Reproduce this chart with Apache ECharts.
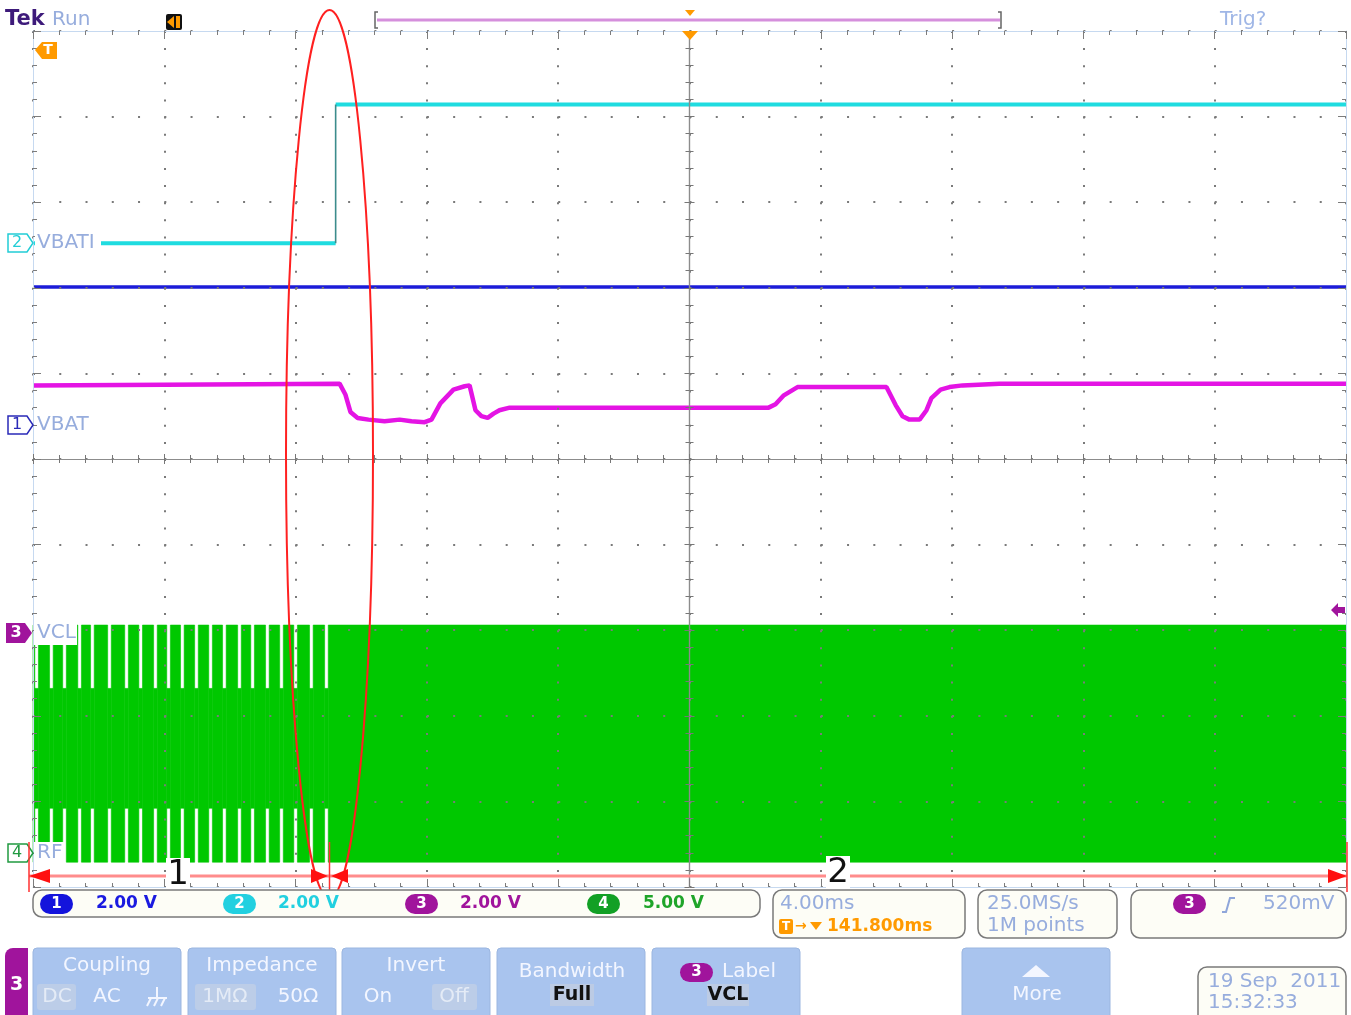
<!DOCTYPE html>
<html><head><meta charset="utf-8">
<script src="https://cdn.jsdelivr.net/npm/echarts@6/dist/echarts.min.js"></script>
<style>html,body{margin:0;padding:0;background:#fff;overflow:hidden}#c{width:1351px;height:1015px}</style>
</head><body><div id="c"></div>
<script>
// ---------------- data ----------------
const xRange = [-20, 20];          // time, ms (4.00 ms/div, trigger at 0)
const xInterval = 4;
const yRange = [-5, 5];            // screen divisions
const yInterval = 1;

// Channel 2 (VBATI), divisions
const ch2VBATI = [[-20, 2.52], [-10.78, 2.52], [-10.78, 4.14], [20, 4.14]];
// Channel 1 (VBAT), divisions
const ch1VBAT = [[-20, 2.01], [20, 2.01]];
// Channel 3 (VCL), divisions
const ch3VCL = [[-20, 0.86], [-10.66, 0.88], [-10.48, 0.75], [-10.33, 0.55], [-10.11, 0.48], [-9.78, 0.46],
  [-9.29, 0.44], [-8.83, 0.46], [-8.47, 0.44], [-8.07, 0.43], [-7.86, 0.46], [-7.59, 0.65], [-7.19, 0.81],
  [-6.85, 0.85], [-6.70, 0.86], [-6.52, 0.57], [-6.34, 0.50], [-6.15, 0.48], [-5.97, 0.53], [-5.79, 0.57],
  [-5.48, 0.60], [2.41, 0.60], [2.62, 0.64], [2.86, 0.74], [3.29, 0.84], [6.00, 0.84], [6.28, 0.63],
  [6.49, 0.50], [6.70, 0.46], [7.01, 0.46], [7.22, 0.57], [7.37, 0.71], [7.65, 0.81], [7.92, 0.84],
  [8.32, 0.86], [9.44, 0.88], [20, 0.88]];
// Channel 4 (RF) envelope: burst gaps (ms) before continuous transmission
const rfGapCenters = [-19.89, -19.44, -19.04, -18.58, -18.19, -17.67, -17.15, -16.72, -16.27, -15.87, -15.45,
  -15.02, -14.59, -14.17, -13.71, -13.31, -12.86, -12.43, -12.00, -11.52, -11.06];
const rfGapWidth = 0.11;
const rfFullEnvelope = [-4.71, -1.94];
const rfGapEnvelope = [-4.08, -2.68];

const channelNames = ['VBATI', 'VBAT', 'VCL', 'RF'];
const channelScales = ['2.00 V', '2.00 V', '2.00 V', '5.00 V'];
const timebaseText = '4.00ms';
const trigDelayText = '141.800ms';
const sampleText = ['25.0MS/s', '1M points'];
const trigLevelText = '520mV';
const dateText = ['19 Sep  2011', '15:32:33'];
const cursorLabels = ['1', '2'];

// build RF segment table
const rfSegments = [];
let prevT = xRange[0];
rfGapCenters.forEach(c => {
  rfSegments.push([prevT, c - rfGapWidth / 2, rfFullEnvelope[0], rfFullEnvelope[1]]);
  rfSegments.push([c - rfGapWidth / 2, c + rfGapWidth / 2, rfGapEnvelope[0], rfGapEnvelope[1]]);
  prevT = c + rfGapWidth / 2;
});
rfSegments.push([prevT, xRange[1], rfFullEnvelope[0], rfFullEnvelope[1]]);

// cyan trace: thick levels, thin edge (both from ch2VBATI)
const ch2Levels = [ch2VBATI[0], ch2VBATI[1], [ch2VBATI[1][0], '-'], ch2VBATI[2], ch2VBATI[3]];
const ch2Edge = [ch2VBATI[1], ch2VBATI[2]];

// ---------------- chart ----------------
const FONT = '"DejaVu Sans", Verdana, sans-serif';
const LB = '#97addd';
const tickCol = '#7c7c7c';
const borderCol = '#c6d9f0';

function xAx(extra) {
  return Object.assign({type: 'value', min: xRange[0], max: xRange[1], interval: xInterval, z: 5,
    axisLabel: {show: false}, splitLine: {show: false}, axisPointer: {show: false}}, extra);
}
function yAx(extra) {
  return Object.assign({type: 'value', min: yRange[0], max: yRange[1], interval: yInterval, z: 5,
    axisLabel: {show: false}, splitLine: {show: false}, axisPointer: {show: false}}, extra);
}
const borderTick = {show: true, inside: true, length: 8, lineStyle: {color: tickCol, width: 1}};
const borderMinor = {show: true, splitNumber: 5, length: 4, lineStyle: {color: tickCol, width: 1}};
const centerTick = {show: true, inside: true, length: 5, lineStyle: {color: '#777', width: 1}};
const centerMinor = {show: true, splitNumber: 5, length: 4, lineStyle: {color: '#777', width: 1}};
const centerLine = {color: '#8c8c8c', width: 1.2};

const G = [];
let zc = 100;
function T(x, y, s, o) {
  o = o || {};
  const al = o.align || 'left';
  G.push({type: 'text', z: zc++, silent: true, style: {x: x, y: y, text: s,
    font: o.font || ('20px ' + FONT), fill: o.fill || LB,
    align: al, verticalAlign: 'middle', textAlign: al, textVerticalAlign: 'middle'}});
}
function R(x, y, w, h, o) {
  o = o || {};
  G.push({type: 'rect', z: zc++, silent: true, shape: {x: x, y: y, width: w, height: h, r: o.r || 0},
    style: {fill: o.fill || 'none', stroke: o.stroke || null, lineWidth: o.lw || 1}});
}
function P(points, fill, stroke, lw) {
  G.push({type: 'polygon', z: zc++, silent: true, shape: {points: points},
    style: {fill: fill || 'none', stroke: stroke || null, lineWidth: lw || 1}});
}
function L(x1, y1, x2, y2, color, lw) {
  G.push({type: 'line', z: zc++, silent: true, shape: {x1: x1, y1: y1, x2: x2, y2: y2},
    style: {stroke: color, lineWidth: lw || 1}});
}
function PL(points, color, lw) {
  G.push({type: 'polyline', z: zc++, silent: true, shape: {points: points},
    style: {stroke: color, lineWidth: lw || 1, fill: 'none'}});
}

// header
T(5, 20, 'Tek', {font: 'bold 21px ' + FONT, fill: '#3d1a7a'});
T(52, 20, 'Run', {font: '20px ' + FONT});
R(166, 14, 16, 16, {fill: '#111', r: 2});
P([[167, 22], [174, 16], [174, 28]], '#ff9a00');
R(176, 16, 4, 12, {fill: '#ff9a00'});
L(377, 20, 1000, 20, '#d58fdc', 3);
PL([[378, 12], [375, 12], [375, 28], [378, 28]], '#666', 1.5);
PL([[998, 12], [1001, 12], [1001, 28], [998, 28]], '#666', 1.5);
P([[685, 10], [695, 10], [690, 16]], '#ff9a00');
P([[682, 31], [698, 31], [690, 40]], '#ff9a00');
T(1220, 20, 'Trig?', {font: '20px ' + FONT, fill: '#9fb6e6'});
// left trigger-time marker
P([[35, 50], [42, 42], [57, 42], [57, 59], [42, 59]], '#ff9a00');
T(48, 50, 'T', {font: 'bold 14px ' + FONT, fill: '#fff', align: 'center'});

// channel markers + labels
R(35, 231, 66, 24, {fill: '#ffffff'});
P([[8, 234], [27, 234], [33, 243], [27, 252], [8, 252]], '#fff', '#22cdd6', 1.5);
T(17, 243, '2', {font: '16px ' + FONT, fill: '#22cdd6', align: 'center'});
T(37, 243, channelNames[0]);
P([[8, 416], [27, 416], [33, 425], [27, 434], [8, 434]], '#fff', '#2a2ab8', 1.5);
T(17, 425, '1', {font: '16px ' + FONT, fill: '#2a2ab8', align: 'center'});
T(37, 425, channelNames[1]);
R(34, 622, 43, 23, {fill: '#ffffff'});
P([[6, 623], [25, 623], [32, 633], [25, 643], [6, 643]], '#a0149c');
T(16, 633, '3', {font: 'bold 16px ' + FONT, fill: '#fff', align: 'center'});
T(37, 633, channelNames[2]);
R(34, 842, 30, 21, {fill: '#ffffff'});
P([[8, 844], [27, 844], [33, 853], [27, 862], [8, 862]], '#fff', '#209a40', 1.5);
T(17, 853, '4', {font: '16px ' + FONT, fill: '#209a40', align: 'center'});
T(37, 853, channelNames[3]);
// trigger level arrow
P([[1331, 610], [1338, 603], [1338, 607], [1345, 607], [1345, 613], [1338, 613], [1338, 617]], '#a0149c');

// red annotations
G.push({type: 'ellipse', z: zc++, silent: true, shape: {cx: 329.5, cy: 454, rx: 43.5, ry: 444},
  style: {fill: 'none', stroke: '#ff2020', lineWidth: 2}});
L(29, 876, 1347, 876, '#ff8c8c', 3);
L(29, 842, 29, 892, '#ff3030', 1.5);
L(329.5, 842, 329.5, 897, '#ff3030', 1.5);
L(1347, 842, 1347, 892, '#ff3030', 1.5);
P([[29, 876], [50, 869], [50, 883]], '#ff1010');
P([[328, 876], [311, 869], [311, 883]], '#ff1010');
P([[331, 876], [348, 869], [348, 883]], '#ff1010');
P([[1347, 876], [1328, 869], [1328, 883]], '#ff1010');
R(166, 858, 24, 34, {fill: '#fff'});
T(178, 875, cursorLabels[0], {font: '34px ' + FONT, fill: '#111', align: 'center'});
R(826, 856, 24, 34, {fill: '#fff'});
T(838, 873, cursorLabels[1], {font: '34px ' + FONT, fill: '#111', align: 'center'});

// status bar
R(33, 890, 727, 27, {fill: '#fdfdf6', stroke: '#7a7a7a', lw: 1.5, r: 9});
const pillCols = ['#1414dc', '#22d0e0', '#a0149c', '#12a025'];
const txtCols = ['#1a1ae0', '#22d0e0', '#a0149c', '#1fa52a'];
const pillX = [40, 223, 405, 587];
const txtX = [96, 278, 460, 643];
for (let i = 0; i < 4; i++) {
  R(pillX[i], 894, 33, 20, {fill: pillCols[i], r: 10});
  T(pillX[i] + 16.5, 904, String(i + 1), {font: 'bold 15px ' + FONT, fill: '#fff', align: 'center'});
  T(txtX[i], 904, channelScales[i], {font: 'bold 17px ' + FONT, fill: txtCols[i]});
}
R(773, 890, 192, 48, {fill: '#fdfdf6', stroke: '#7a7a7a', lw: 1.5, r: 9});
T(780, 904, timebaseText);
R(779, 919, 14, 15, {fill: '#ff9a00', r: 2});
T(786, 927, 'T', {font: 'bold 12px ' + FONT, fill: '#fff', align: 'center'});
T(795, 926, '\u2192', {font: 'bold 14px ' + FONT, fill: '#ff9a00'});
P([[810, 922], [822, 922], [816, 930]], '#ff9a00');
T(827, 927, trigDelayText, {font: 'bold 17px ' + FONT, fill: '#ff9a00'});
R(978, 890, 139, 48, {fill: '#fdfdf6', stroke: '#7a7a7a', lw: 1.5, r: 9});
T(987, 904, sampleText[0]);
T(987, 926, sampleText[1]);
R(1131, 890, 215, 48, {fill: '#fdfdf6', stroke: '#7a7a7a', lw: 1.5, r: 9});
R(1173, 894, 33, 20, {fill: '#a0149c', r: 10});
T(1189.5, 904, '3', {font: 'bold 15px ' + FONT, fill: '#fff', align: 'center'});
PL([[1222, 912], [1226, 912], [1230, 898], [1235, 898]], '#8fa6da', 2);
T(1263, 904, trigLevelText);

// bottom menu
const btnFill = '#a9c4ee';
const btnText = '#f3f6ff';
G.push({type: 'rect', z: zc++, silent: true, shape: {x: 5, y: 948, width: 23, height: 80, r: [8, 0, 0, 8]}, style: {fill: '#a0149c'}});
T(16.5, 985, '3', {font: 'bold 19px ' + FONT, fill: '#fff', align: 'center'});
const btnX = [33, 188, 342, 497, 652, 962];
btnX.forEach(x => R(x, 948, 148, 80, {fill: btnFill, stroke: '#9bb6e0', lw: 1, r: 4}));
T(107, 966, 'Coupling', {fill: btnText, align: 'center'});
R(37, 984, 39, 26, {fill: '#bccde8', r: 3});
T(57, 997, 'DC', {fill: '#e4ebf6', align: 'center'});
T(107, 997, 'AC', {fill: btnText, align: 'center'});
L(157, 987, 157, 998, btnText, 2);
L(148, 998, 167, 998, btnText, 2);
L(151, 998, 147, 1006, btnText, 2);
L(158, 998, 154, 1006, btnText, 2);
L(165, 998, 161, 1006, btnText, 2);
T(262, 966, 'Impedance', {fill: btnText, align: 'center'});
R(195, 984, 61, 26, {fill: '#bccde8', r: 3});
T(225, 997, '1M\u03A9', {fill: '#e4ebf6', align: 'center'});
T(298, 997, '50\u03A9', {fill: btnText, align: 'center'});
T(416, 966, 'Invert', {fill: btnText, align: 'center'});
T(378, 997, 'On', {fill: btnText, align: 'center'});
R(432, 984, 45, 26, {fill: '#bccde8', r: 3});
T(454, 997, 'Off', {fill: '#e4ebf6', align: 'center'});
T(572, 972, 'Bandwidth', {fill: btnText, align: 'center'});
R(550, 984, 44, 22, {fill: '#bccbe4'});
T(572, 995, 'Full', {font: 'bold 19px ' + FONT, fill: '#111', align: 'center'});
R(680, 963, 33, 19, {fill: '#a0149c', r: 10});
T(696.5, 972, '3', {font: 'bold 15px ' + FONT, fill: '#fff', align: 'center'});
T(749, 972, 'Label', {fill: btnText, align: 'center'});
R(707, 984, 42, 22, {fill: '#bccbe4'});
T(728, 995, 'VCL', {font: 'bold 19px ' + FONT, fill: '#111', align: 'center'});
P([[1022, 977], [1036, 965], [1050, 977]], '#f3f6ff');
T(1037, 995, 'More', {fill: btnText, align: 'center'});
R(1198, 967, 148, 60, {fill: '#fdfdf6', stroke: '#7a7a7a', lw: 1.5, r: 9});
T(1208, 982, dateText[0]);
T(1208, 1003, dateText[1]);

const option = {
  animation: false,
  backgroundColor: '#ffffff',
  grid: {left: 33, top: 31, width: 1313, height: 856, containLabel: false, outerBoundsMode: 'none'},
  xAxis: [
    xAx({position: 'bottom', axisLine: {show: true, onZero: false, lineStyle: {color: borderCol, width: 1}},
      axisTick: borderTick, minorTick: borderMinor,
      splitLine: {show: true, lineStyle: {color: '#7a7a7a', width: 2, type: [2, 15.12]}}}),
    xAx({position: 'top', axisLine: {show: true, onZero: false, lineStyle: {color: borderCol, width: 1}},
      axisTick: borderTick, minorTick: borderMinor}),
    xAx({position: 'bottom', axisLine: {show: true, onZero: true, onZeroAxisIndex: 0, lineStyle: centerLine},
      axisTick: centerTick, minorTick: centerMinor}),
    xAx({position: 'top', axisLine: {show: true, onZero: true, onZeroAxisIndex: 0, lineStyle: centerLine},
      axisTick: centerTick, minorTick: centerMinor})
  ],
  yAxis: [
    yAx({position: 'left', axisLine: {show: true, onZero: false, lineStyle: {color: borderCol, width: 1}},
      axisTick: borderTick, minorTick: borderMinor,
      splitLine: {show: true, lineStyle: {color: '#7a7a7a', width: 2, type: [2, 24.26]}}}),
    yAx({position: 'right', axisLine: {show: true, onZero: false, lineStyle: {color: borderCol, width: 1}},
      axisTick: borderTick, minorTick: borderMinor}),
    yAx({position: 'left', axisLine: {show: true, onZero: true, onZeroAxisIndex: 0, lineStyle: centerLine},
      axisTick: centerTick, minorTick: centerMinor}),
    yAx({position: 'right', axisLine: {show: true, onZero: true, onZeroAxisIndex: 0, lineStyle: centerLine},
      axisTick: centerTick, minorTick: centerMinor})
  ],
  series: [
    {
      type: 'custom', name: 'RF', xAxisIndex: 0, yAxisIndex: 0, z: 1, silent: true,
      dimensions: ['t0', 't1', 'lo', 'hi'], encode: {x: [0, 1], y: [2, 3]},
      data: rfSegments,
      renderItem: function (params, api) {
        const a = api.coord([api.value(0), api.value(3)]);
        const b = api.coord([api.value(1), api.value(2)]);
        return {type: 'rect', shape: {x: a[0], y: a[1], width: b[0] - a[0], height: b[1] - a[1]},
          style: {fill: '#00c800', stroke: '#00c800', lineWidth: 0.6}};
      }
    },
    {type: 'line', name: 'VBATI', data: ch2Levels, xAxisIndex: 0, yAxisIndex: 0, z: 2, silent: true,
      connectNulls: false, symbol: 'none', showSymbol: false, lineStyle: {color: '#1fdce0', width: 4}},
    {type: 'line', name: 'VBATI edge', data: ch2Edge, xAxisIndex: 0, yAxisIndex: 0, z: 2, silent: true,
      symbol: 'none', showSymbol: false, lineStyle: {color: '#3c8c8c', width: 1.6}},
    {type: 'line', name: 'VBAT', data: ch1VBAT, xAxisIndex: 0, yAxisIndex: 0, z: 2, silent: true,
      symbol: 'none', showSymbol: false, lineStyle: {color: '#1c1cd8', width: 3.5}},
    {type: 'line', name: 'VCL', data: ch3VCL, xAxisIndex: 0, yAxisIndex: 0, z: 2, silent: true,
      symbol: 'none', showSymbol: false, lineStyle: {color: '#e414e4', width: 4.5}}
  ],
  graphic: {elements: G}
};

const chart = echarts.init(document.getElementById('c'), null, {renderer: 'canvas'});
chart.setOption(option);
</script>
</body></html>
